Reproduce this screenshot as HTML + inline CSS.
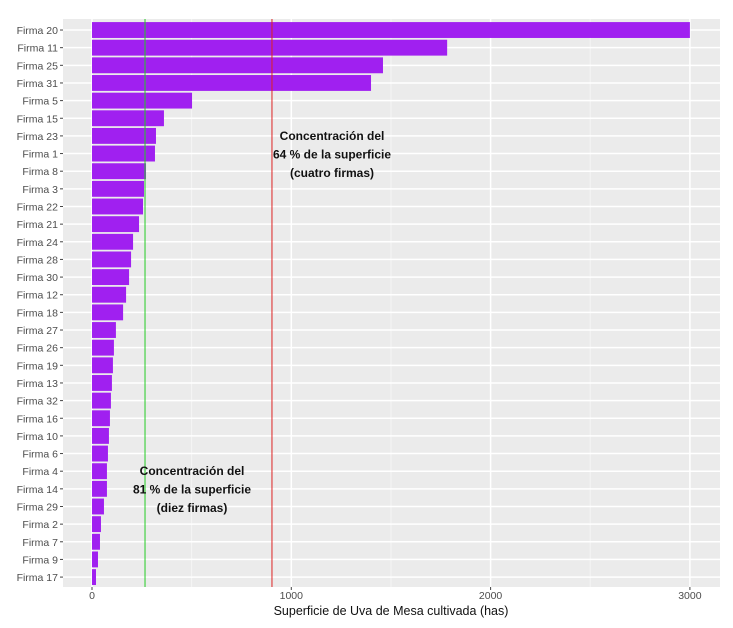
<!DOCTYPE html>
<html><head><meta charset="utf-8"><style>
body{margin:0;background:#fff;font-family:"Liberation Sans",Arial,sans-serif}
svg{display:block}
</style></head><body>
<svg id="chart" width="733" height="628"></svg>
<script>
const categories=["Firma 20","Firma 11","Firma 25","Firma 31","Firma 5","Firma 15","Firma 23","Firma 1","Firma 8","Firma 3","Firma 22","Firma 21","Firma 24","Firma 28","Firma 30","Firma 12","Firma 18","Firma 27","Firma 26","Firma 19","Firma 13","Firma 32","Firma 16","Firma 10","Firma 6","Firma 4","Firma 14","Firma 29","Firma 2","Firma 7","Firma 9","Firma 17"];
const values=[3000,1782,1460,1400,502,361,321,316,271,261,256,236,206,196,186,171,156,120,110,105,100,95,90,85,80,75,75,60,45,40,30,20];
const xTicks=[0,1000,2000,3000];
const refLines=[{v:266,c:"#22cc22",n:"green-ref-line"},{v:903,c:"#dd2222",n:"red-ref-line"}];
const NS="http://www.w3.org/2000/svg";
const svg=document.getElementById('chart');
const L=63,R=720,T=19,B=587;
const BT=21.2,BB=585.9;
const x=v=>92+v*0.1993;
const step=(BB-BT)/categories.length;
const y=i=>BT+step*(i+0.5);
function mk(t,a,p){const e=document.createElementNS(NS,t);for(const k in a)e.setAttribute(k,a[k]);(p||svg).appendChild(e);return e;}
const bg=mk('rect',{x:L,y:T,width:R-L,height:B-T,fill:'#ebebeb'});


for(let i=0;i<xTicks.length;i++){const mv=xTicks[i]+500;if(x(mv)<R){const g=mk('line',{x1:x(mv),x2:x(mv),y1:T,y2:B,stroke:'#f5f5f5','stroke-width':1});}}
xTicks.forEach(t=>{const g=mk('line',{x1:x(t),x2:x(t),y1:T,y2:B,stroke:'#fff','stroke-width':1.5});
const tk=mk('line',{x1:x(t),x2:x(t),y1:B,y2:B+3,stroke:'#444'});
const tl=mk('text',{x:x(t),y:B+12,'text-anchor':'middle','font-size':10.5,fill:'#4d4d4d'});tl.textContent=t;});
categories.forEach((c,i)=>{const g=mk('line',{x1:L,x2:R,y1:y(i),y2:y(i),stroke:'#fff','stroke-width':1.5});});
categories.forEach((c,i)=>{const h=step*0.9;
const b=mk('rect',{x:x(0),y:y(i)-h/2,width:x(values[i])-x(0),height:h,fill:'#a020f0'});
const tk=mk('line',{x1:L-3,x2:L,y1:y(i),y2:y(i),stroke:'#444'});
const tl=mk('text',{x:L-5,y:y(i)+4,'text-anchor':'end','font-size':10.5,fill:'#4d4d4d'});tl.textContent=c;});
refLines.forEach(r=>{const l=mk('line',{x1:x(r.v),x2:x(r.v),y1:T,y2:B,stroke:r.c,'stroke-width':1});});
function ann(lines,cx,cy,name){const g=mk('g',{});lines.forEach((s,k)=>{const t=mk('text',{x:cx,y:cy+k*18.5,'text-anchor':'middle','font-size':12,'font-weight':'bold',fill:'#111'},g);t.textContent=s;});}
ann(["Concentración del","64 % de la superficie","(cuatro firmas)"],332,140,'annotation-four-firms');
ann(["Concentración del","81 % de la superficie","(diez firmas)"],192,475,'annotation-ten-firms');
const xt=mk('text',{x:391,y:615,'text-anchor':'middle','font-size':12.5,fill:'#111'});xt.textContent="Superficie de Uva de Mesa cultivada (has)";
</script>
</body></html>
